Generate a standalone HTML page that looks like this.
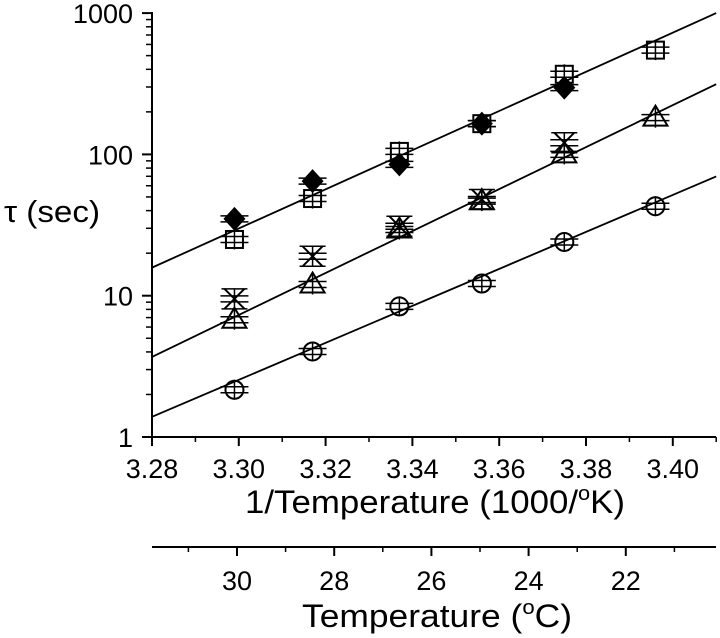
<!DOCTYPE html>
<html><head><meta charset="utf-8"><style>
html,body{margin:0;padding:0;background:#fff;}
svg{display:block;font-family:"Liberation Sans",Arial,sans-serif;}
</style></head><body>
<svg id="chart" width="720" height="638" viewBox="0 0 720 638">
<g id="axes"></g>
<g id="fits"></g>
<g id="marks"></g>
<text x="4" y="222" font-size="31" textLength="96" lengthAdjust="spacingAndGlyphs">τ (sec)</text>
<text x="245" y="513" font-size="32" textLength="380" lengthAdjust="spacingAndGlyphs">1/Temperature (1000/<tspan font-size="20" dy="-13">o</tspan><tspan dy="13">K)</tspan></text>
<text x="302" y="627" font-size="32" textLength="270" lengthAdjust="spacingAndGlyphs">Temperature (<tspan font-size="20" dy="-13">o</tspan><tspan dy="13">C)</tspan></text>
</svg>
<script>
const xCats = [3.299, 3.317, 3.337, 3.356, 3.375, 3.396];
const diamondVals = [35, 64.7, 85, 165, 297, null];
const squareVals = [25, 48.7, 105, 165, 369, 547];
const starVals = [9.5, 19, 31, 48, 121, null];
const triangleVals = [6.76, 12, 29.4, 46.7, 100, 182];
const circleVals = [2.16, 4.03, 8.4, 12.2, 24, 43];
const fitTop = [15.8, 1000];
const fitMid = [3.69, 314];
const fitBot = [1.39, 69.8];
const fitX = [3.28, 3.41];
const xTicks = [3.28, 3.30, 3.32, 3.34, 3.36, 3.38, 3.40];
const xTickLabels = ["3.28", "3.30", "3.32", "3.34", "3.36", "3.38", "3.40"];
const yTicks = [1, 10, 100, 1000];
const yTickLabels = ["1", "10", "100", "1000"];
const cTicks = [30, 28, 26, 24, 22];
const cTickLabels = ["30", "28", "26", "24", "22"];

const NS = "http://www.w3.org/2000/svg";
const X0 = 152, XR = 716, Y1 = 437, DEC = 141.3;
function xs(v){ return X0 + (v - 3.28) * 4340; }
function ys(v){ return Y1 - Math.log10(v) * DEC; }
function cs(c){ return 237 + (30 - c) * 48.6; }
function mk(tag, attrs, parent){
  const e = document.createElementNS(NS, tag);
  for (const k in attrs) e.setAttribute(k, attrs[k]);
  parent.appendChild(e); return e;
}
const axes = document.getElementById('axes');
const fits = document.getElementById('fits');
const marks = document.getElementById('marks');
const st = {stroke:"#000", "stroke-width":2, fill:"none"};

let l = mk('line', {x1:X0, y1:12, x2:X0, y2:Y1, stroke:"#000","stroke-width":2}, axes);


for (let d = 0; d < 3; d++) {
  for (let m = 2; m <= 9; m++) {
    const v = Math.pow(10, d) * m;
    const t = mk('line', {x1:X0-6, y1:ys(v), x2:X0, y2:ys(v), stroke:"#000","stroke-width":1.5}, axes);
    
    
  }
}
yTicks.forEach((v, i) => {
  const t = mk('line', {x1:X0-10, y1:ys(v), x2:X0, y2:ys(v), stroke:"#000","stroke-width":2}, axes);
  
  
  const tx = mk('text', {x:X0-19, y:ys(v)+10, "font-size":27, "text-anchor":"end"}, axes);
  tx.textContent = yTickLabels[i];
  
  
});
l = mk('line', {x1:X0, y1:Y1, x2:XR, y2:Y1, stroke:"#000","stroke-width":2}, axes);


for (let v = 3.29; v < 3.415; v += 0.02) {
  const t = mk('line', {x1:xs(v), y1:Y1, x2:xs(v), y2:Y1+5, stroke:"#000","stroke-width":1.5}, axes);
  
  
}
xTicks.forEach((v, i) => {
  const t = mk('line', {x1:xs(v), y1:Y1, x2:xs(v), y2:Y1+9, stroke:"#000","stroke-width":2}, axes);
  
  
  const tx = mk('text', {x:xs(v), y:478, "font-size":27, "text-anchor":"middle"}, axes);
  tx.textContent = xTickLabels[i];
  
  
});
const CY = 547;
l = mk('line', {x1:X0, y1:CY, x2:XR, y2:CY, stroke:"#000","stroke-width":2}, axes);


for (let c = 31; c >= 20; c -= 2) {
  if (cs(c) < X0 || cs(c) > XR) continue;
  const t = mk('line', {x1:cs(c), y1:CY, x2:cs(c), y2:CY+5, stroke:"#000","stroke-width":1.5}, axes);
  
  
}
cTicks.forEach((c, i) => {
  const t = mk('line', {x1:cs(c), y1:CY, x2:cs(c), y2:CY+9, stroke:"#000","stroke-width":2}, axes);
  
  
  const tx = mk('text', {x:cs(c), y:590, "font-size":27, "text-anchor":"middle"}, axes);
  tx.textContent = cTickLabels[i];
  
  
});
[[fitTop,'fit-line-top'],[fitMid,'fit-line-middle'],[fitBot,'fit-line-bottom']].forEach(([f, n]) => {
  const e = mk('line', {x1:xs(fitX[0]), y1:ys(f[0]), x2:xs(fitX[1]), y2:ys(f[1]), stroke:"#000","stroke-width":1.8}, fits);
  
  
});
function errCaps(g, x, y){
  mk('line', {x1:x-14, y1:y-3, x2:x+14, y2:y-3, stroke:"#000","stroke-width":1.5}, g);
  mk('line', {x1:x-14, y1:y+3, x2:x+14, y2:y+3, stroke:"#000","stroke-width":1.5}, g);
  mk('line', {x1:x, y1:y-10, x2:x, y2:y+10, stroke:"#000","stroke-width":1.5}, g);
}
function drawSeries(vals, kind, name){
  vals.forEach((v, i) => {
    if (v == null) return;
    const x = xs(xCats[i]), y = ys(v);
    const g = mk('g', {}, marks);
    
    
    errCaps(g, x, y);
    if (kind === 'diamond') mk('polygon', {points:`${x},${y-12} ${x+11},${y} ${x},${y+12} ${x-11},${y}`, fill:"#000"}, g);
    if (kind === 'square') mk('rect', {x:x-8.5, y:y-8.5, width:17, height:17, ...st}, g);
    if (kind === 'circle') mk('circle', {cx:x, cy:y, r:9, ...st}, g);
    if (kind === 'triangle') mk('polygon', {points:`${x},${y-12} ${x+12},${y+8} ${x-12},${y+8}`, ...st}, g);
    if (kind === 'star') {
      mk('line', {x1:x-10, y1:y-10, x2:x+10, y2:y+10, stroke:"#000","stroke-width":2}, g);
      mk('line', {x1:x-10, y1:y+10, x2:x+10, y2:y-10, stroke:"#000","stroke-width":2}, g);
      mk('line', {x1:x-13, y1:y-10, x2:x+13, y2:y-10, stroke:"#000","stroke-width":1.5}, g);
      mk('line', {x1:x-13, y1:y+10, x2:x+13, y2:y+10, stroke:"#000","stroke-width":1.5}, g);
    }
  });
}
drawSeries(squareVals, 'square', 'square-point');
drawSeries(diamondVals, 'diamond', 'diamond-point');
drawSeries(starVals, 'star', 'asterisk-point');
drawSeries(triangleVals, 'triangle', 'triangle-point');
drawSeries(circleVals, 'circle', 'circle-point');
</script>
</body></html>
